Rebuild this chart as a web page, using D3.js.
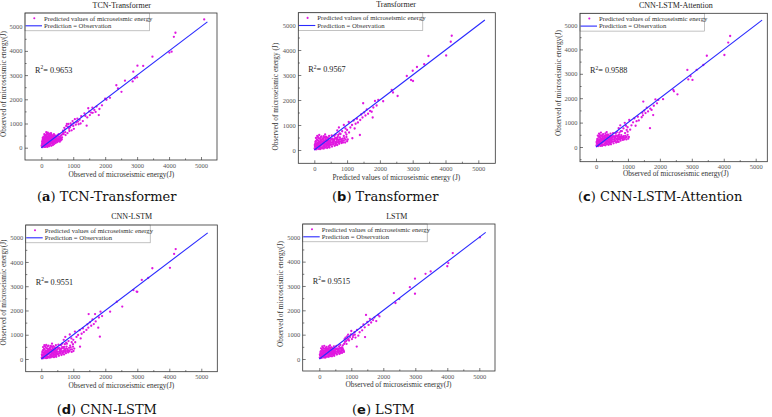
<!DOCTYPE html>
<html>
<head>
<meta charset="utf-8">
<script src="https://cdn.jsdelivr.net/npm/d3@7"></script>
<style>
body{margin:0;background:#fff}
svg{display:block}
</style>
</head>
<body>
<svg id="fig"></svg>
<script>
//data
var ticks = [0,1000,2000,3000,4000,5000];
var minorTicks = [-500,500,1500,2500,3500,4500,5500];
var titles = ['TCN-Transformer','Transformer','CNN-LSTM-Attention','CNN-LSTM','LSTM'];
var letters = ['a','b','c','d','e'];
var r2 = ['0.9653','0.9567','0.9588','0.9551','0.9515'];
var xLabels = ['Observed of microseismic energy(J)','Predicted values of microseismic energy (J)','Observed of microseismic energy(J)','Observed of microseismic energy(J)','Observed of microseismic energy(J)'];
var yLabels = ['Observed of microseismic energy(J)','Observed of microseismic energy (J)','Observed of microseismic energy(J)','Observed of microseismic energy(J)','Observed of microseismic energy(J)'];
var legendText = ['Predicted values of microseismic energy','Prediction = Observation'];
var idLine = [0,5200];

var ptsTcnTransformer = [
[20,50],[35,120],[50,210],[60,80],[75,300],[80,160],[90,40],[100,380],[110,250],[120,120],[130,450],[140,60],[150,320],[160,200],[170,520],[180,90],[190,400],[200,270],[210,150],[220,560],[230,350],[240,60],[250,210],[260,470],[270,300],[280,130],[290,420],[300,240],[310,80],[320,540],[330,360],[340,180],[350,280],[360,110],[370,450],[380,220],[390,330],[400,150],[410,500],[420,260],[440,380],[450,190],[460,430],[480,300],[500,230],[510,520],[530,350],[550,280],[570,450],[590,380],[610,300],[630,520],[650,430],[40,20],[60,330],[85,250],[115,500],[145,420],[175,280],[205,620],[235,480],[265,580],[25,250],[45,400],[70,460],[95,560],[125,180],[155,640],[185,30],[215,320],[245,400],[275,200],[305,600],[335,450],[365,300],[395,560],[425,420],[455,300],[485,470],[515,380],[545,560],[575,330],[605,490],[40,170],[65,240],[105,90],[135,350],[165,470],[195,190],[225,110],[255,330],[285,520],[315,400],[345,240],[375,140],[405,380],[435,230],[465,350],
[12,90],[28,180],[38,310],[52,140],[68,380],[88,190],[98,310],[108,420],[118,30],[128,270],[138,530],[148,150],[158,380],[168,230],[178,600],[188,340],[198,110],[208,470],[218,240],[228,410],[238,180],[248,520],[258,120],[268,370],[278,450],[288,280],[298,170],[308,350],[318,220],[328,480],[338,300],[348,390],[358,190],[368,510],[378,290],[398,250],[418,330],[438,300],[458,240],[478,400],[498,330],[518,280],[538,460],[558,380],[578,250],[598,420],[622,370],[642,340],[662,560],[82,340],[122,380],[162,320],[202,560],[242,260],[282,330],[322,290],[362,380],[402,440],[442,500],[482,360],
[680,700],[700,560],[720,820],[750,640],[780,900],[800,980],[820,600],[850,980],[870,780],[900,850],[920,1000],[950,720],[980,1100],[1000,900],[1020,780],[1050,1180],[1080,950],[1100,1050],[1130,1200],[1170,970],[1200,1150],[1250,1300],[1300,1100],[1350,1420],[1420,910],[1440,1250],[1470,1630],[1500,1500],[1520,1350],[1560,1450],[1600,1650],[1610,1440],[1660,1560],[1700,1480],[1730,1700],[1800,1350],[1820,1600],[1900,1750],[2000,2030],[2040,1980],[2150,2060],[2350,2580],[2400,2450],[2510,2310],[2620,2770],[2860,2740],[2880,3140],[2930,2870],[3000,2910],[3010,3390],[3190,3380],[3480,3760],[4010,3930],[4080,3970],[4150,4580],[4200,4750],[5100,5300],
[690,620],[740,760],[760,520],[830,870],[880,690],[940,930],[1010,1010],[1150,1080],[1230,1000],[1380,1310]
];
var ptsTransformer = [
[10,60],[20,150],[30,260],[40,90],[50,350],[60,200],[70,30],[80,420],[90,130],[100,280],[110,520],[120,60],[130,360],[140,190],[150,600],[160,100],[170,450],[180,280],[190,40],[200,380],[210,180],[220,540],[230,90],[240,320],[250,230],[260,460],[270,140],[280,380],[290,60],[300,270],[310,500],[320,170],[330,340],[340,100],[350,430],[360,230],[370,150],[380,360],[390,80],[400,290],[410,480],[420,200],[430,120],[440,390],[450,260],[460,170],[480,320],[500,210],[520,430],[540,140],[560,300],[580,230],[600,380],[620,170],[640,480],[660,270],[680,350],[700,200],[720,420],[740,300],[760,250],[780,500],[800,340],[830,280],[860,450],[900,380],[940,300],[980,520],[1020,420],[50,480],[90,560],[130,250],[170,330],[210,420],[250,70],[290,550],[330,620],[370,520],[410,360],[450,560],[490,460],[530,580],[570,400],[610,560],[650,620],[690,480],[730,600],[770,660],[25,30],[65,120],[105,170],[145,40],[185,230],[225,300],[265,320],[305,120],[345,250],[385,210],[425,290],[465,100],
[15,200],[35,330],[55,110],[75,260],[95,400],[115,220],[135,470],[155,310],[175,150],[195,510],[215,330],[235,230],[255,420],[275,290],[295,190],[315,380],[335,240],[355,520],[375,330],[395,190],[415,290],[435,460],[455,350],[475,240],[495,380],[515,300],[535,220],[555,450],[575,330],[595,260],[615,440],[635,320],[655,200],[675,430],[695,300],[715,520],[735,380],[755,330],[775,420],[815,430],[845,360],[875,300],[915,470],[955,420],[1000,350],[120,300],[200,90],[280,470],[360,420],[440,180],
[700,780],[750,900],[800,640],[850,750],[900,1000],[950,860],[1000,800],[1050,1120],[900,560],[950,700],[980,620],[1060,700],[1100,900],[1150,1000],[1160,470],[1200,1180],[1230,860],[1260,1050],[1300,1250],[1330,1100],[1390,600],[1400,1200],[1430,1420],[1470,1300],[1490,1870],[1520,1500],[1560,1380],[1600,1620],[1640,1450],[1700,1560],[1750,1530],[1780,1300],[1800,1700],[1850,1960],[1900,1780],[1950,2000],[2100,1950],[2360,2400],[2400,2300],[2540,2160],[2820,2960],[2950,2800],[3000,3170],[3010,2760],[3130,3320],[3350,3430],[3480,3760],[4020,3780],[4160,4330],[4190,4570]
];
var ptsCnnLstmAtt = [
[15,70],[25,160],[35,250],[45,100],[55,340],[65,210],[75,40],[85,430],[95,140],[105,290],[115,510],[125,70],[135,370],[145,200],[155,590],[165,110],[175,460],[185,290],[195,50],[205,390],[215,190],[225,530],[235,100],[245,330],[255,240],[265,470],[275,150],[285,390],[295,70],[305,280],[315,490],[325,180],[335,350],[345,110],[355,440],[365,240],[375,160],[385,370],[395,90],[405,300],[415,470],[425,210],[435,130],[445,400],[455,270],[470,180],[490,330],[510,220],[530,420],[550,150],[570,310],[590,240],[610,390],[630,180],[650,470],[670,280],[690,360],[710,210],[730,430],[750,310],[770,260],[790,490],[810,350],[840,290],[870,440],[910,370],[950,310],[990,500],[1030,410],[55,470],[95,550],[135,260],[175,340],[215,430],[255,80],[295,560],[335,610],[375,510],[415,370],[455,550],[495,450],[535,570],[575,410],[615,550],[655,610],[695,470],[735,590],[775,650],[30,35],[70,130],[110,180],[150,45],[190,240],[230,310],[270,330],[310,130],[350,260],[390,220],[430,300],[470,110],
[20,210],[40,320],[60,120],[80,270],[100,410],[120,230],[140,460],[160,320],[180,160],[200,500],[220,340],[240,240],[260,410],[280,300],[300,200],[320,390],[340,250],[360,510],[380,320],[400,200],[420,300],[440,450],[460,360],[480,250],[500,390],[520,310],[540,230],[560,440],[580,340],[600,270],[620,450],[640,330],[660,210],[680,420],[700,310],[720,510],[740,390],[760,340],[780,410],[820,420],[850,370],[880,310],[920,460],[960,410],[1010,340],[125,310],[205,100],[285,460],[365,430],[445,190],
[710,770],[760,890],[810,650],[860,760],[900,990],[940,870],[990,810],[1040,1110],[910,570],[960,700],[990,630],[1070,710],[1110,890],[1160,1010],[1200,1170],[1240,870],[1270,1060],[1310,1240],[1340,1090],[1430,1220],[1450,1400],[1470,1300],[1480,1860],[1510,1490],[1550,1390],[1590,1610],[1630,1460],[1690,770],[1700,1570],[1740,1520],[1790,1310],[1810,1690],[1860,1950],[1910,1790],[1950,1930],[2100,1960],[2420,2340],[2440,2280],[2550,2160],[2860,3160],[2890,2770],[2960,2900],[3020,2750],[3150,3160],[3360,3360],[3470,3740],[4020,3770],[4140,4280],[4200,4550]
];
var ptsCnnLstm = [
[15,55],[25,140],[35,270],[45,95],[55,360],[65,190],[75,35],[85,410],[95,150],[105,270],[115,530],[125,65],[135,350],[145,210],[155,580],[165,95],[175,440],[185,270],[195,45],[205,370],[215,200],[225,550],[235,85],[245,310],[255,250],[265,450],[275,130],[285,400],[295,65],[305,260],[315,510],[325,160],[335,330],[345,95],[355,420],[365,220],[375,140],[385,350],[395,75],[405,280],[415,490],[425,190],[435,110],[445,380],[455,250],[470,160],[490,310],[510,200],[530,440],[550,130],[570,290],[590,220],[610,370],[630,160],[650,490],[670,260],[690,340],[710,190],[730,410],[750,290],[770,240],[790,510],[810,330],[840,270],[870,460],[910,390],[950,290],[990,510],[1030,430],[55,490],[95,570],[135,240],[175,320],[215,410],[255,60],[295,540],[335,630],[375,530],[415,350],[455,570],[495,470],[535,590],[575,390],[615,570],[655,630],[695,490],[735,610],[775,670],[30,25],[70,110],[110,160],[150,35],[190,220],[230,290],[270,310],[310,110],[350,240],[390,200],[430,280],[470,90],
[18,190],[38,310],[58,130],[78,250],[98,420],[118,210],[138,480],[158,300],[178,170],[198,520],[218,320],[238,210],[258,400],[278,310],[298,180],[318,370],[338,230],[358,500],[378,310],[398,180],[418,320],[438,440],[458,340],[478,230],[498,400],[518,290],[538,210],[558,460],[578,320],[598,250],[618,430],[638,310],[658,220],[678,450],[698,290],[718,500],[738,370],[758,320],[778,430],[818,410],[848,350],[878,320],[918,480],[958,400],[1005,330],[122,320],[202,110],[282,480],[362,440],[442,170],
[700,790],[750,910],[800,630],[850,740],[890,1010],[940,850],[1000,790],[1050,1130],[900,550],[950,690],[990,610],[1060,690],[1100,910],[1150,990],[1210,510],[1200,1190],[1230,850],[1260,1040],[1300,1260],[1330,1110],[1410,1200],[1440,1430],[1470,1290],[1480,1850],[1520,1510],[1560,1370],[1600,1630],[1640,1440],[1700,1550],[1680,1850],[1780,1290],[1830,920],[1800,1710],[1850,1950],[1900,1770],[2150,1950],[2360,2360],[2530,2160],[2880,2840],[2980,2780],[3000,2770],[3140,3260],[3340,3340],[3470,3740],[4020,3760],[4150,4330],[4200,4530]
];
var ptsLstm = [
[15,60],[25,150],[35,240],[45,90],[55,320],[65,200],[75,45],[85,390],[95,140],[105,270],[115,470],[125,80],[135,340],[145,200],[155,540],[165,120],[175,420],[185,280],[195,60],[205,360],[215,190],[225,500],[235,110],[245,310],[255,230],[265,440],[275,160],[285,370],[295,90],[305,270],[315,460],[325,190],[335,330],[345,120],[355,410],[365,240],[375,170],[385,350],[395,110],[405,290],[415,450],[425,220],[435,150],[445,380],[455,270],[470,200],[490,320],[510,240],[530,410],[550,180],[570,320],[590,260],[610,380],[630,210],[650,460],[670,300],[690,370],[710,250],[730,430],[750,330],[770,290],[55,440],[95,520],[135,250],[175,330],[215,410],[255,100],[295,520],[335,560],[375,480],[415,360],[455,520],[495,440],[535,540],[575,400],[615,520],[655,580],[695,470],[735,560],[775,620],[30,40],[70,130],[110,180],[150,60],[190,240],[230,300],[270,320],[310,140],[350,250],[390,220],[430,300],[470,130],
[18,180],[38,300],[58,120],[78,240],[98,370],[118,210],[138,430],[158,290],[178,160],[198,460],[218,320],[238,220],[258,380],[278,300],[298,200],[318,360],[338,240],[358,470],[378,300],[398,200],[418,300],[438,420],[458,330],[478,250],[498,380],[518,300],[538,230],[558,440],[578,340],[598,280],[618,440],[638,320],[658,250],[678,420],[698,330],[718,480],[738,380],[758,350],[122,300],[202,100],[282,430],[362,400],[442,200],
[800,700],[820,880],[850,620],[880,800],[900,1000],[930,760],[960,900],[1000,1150],[1020,820],[1060,980],[1100,1100],[1130,880],[1170,510],[1180,1200],[1220,960],[1260,1100],[1300,1300],[1340,1180],[1380,1420],[1430,900],[1420,1300],[1460,1810],[1500,1520],[1540,1400],[1580,1650],[1620,1500],[1680,1600],[1720,1700],[1780,1560],[1840,1810],[1880,1750],[2330,2710],[2380,2300],[2500,2460],[2830,2950],[2990,3300],[2990,2680],[3320,3500],[3480,3600],[4000,3810],[4030,3940],[4170,4350],[5020,5000],
[790,820],[840,740],[870,930],[910,830],[990,1010],[1050,900],[1110,1000]
];

//layout of the five panels (pixel positions)
var layout = [
	{l:25,t:13,r:217,b:160,x0:41.3,x5:201,y0:147.7,y5:26.7,title:[121.7,8],xl:[121.3,176.5],yl:[6.3,84],cap:[37,201]},
	{l:298.3,t:12.7,r:495.3,b:163.3,x0:314.3,x5:478.3,y0:150,y5:25,title:[396,7],xl:[396.3,179.5],yl:[278,96.7],cap:[332,201]},
	{l:580,t:13.3,r:767.3,b:161.7,x0:596,x5:755.7,y0:147,y5:25,title:[675.8,7.5],xl:[675.8,176],yl:[560.5,83],cap:[578,201]},
	{l:25.7,t:225,r:217.3,b:371.7,x0:41.3,x5:201.3,y0:359,y5:237.7,title:[131.7,219],xl:[121.3,387.5],yl:[6,292.5],cap:[56.7,414]},
	{l:302.7,t:224,r:495,b:371,x0:319.3,x5:479.3,y0:359,y5:237.3,title:[396.8,218.5],xl:[398.5,387],yl:[283,294],cap:[352,414]}
];
var allPts = [ptsTcnTransformer,ptsTransformer,ptsCnnLstmAtt,ptsCnnLstm,ptsLstm];

var serif = '"Liberation Serif","Times New Roman",serif';
var dotColor = '#e018e0';
var lineColor = '#2a2aff';

var svg = d3.select('#fig').attr('width',772).attr('height',417);

layout.forEach(function(L,i){
	var g = svg.append('g');
	var x = d3.scaleLinear().domain([0,5000]).range([L.x0,L.x5]);
	var y = d3.scaleLinear().domain([0,5000]).range([L.y0,L.y5]);
	var inX = minorTicks.filter(function(v){return x(v)>L.l+1 && x(v)<L.r-1;});
	var inY = minorTicks.filter(function(v){return y(v)<L.b-1 && y(v)>L.t+1;});

	//axes, ticks point inward
	var ax = g.append('g').attr('transform','translate(0,'+L.b+')')
		.call(d3.axisBottom(x).tickValues(ticks).tickSize(-3).tickPadding(3).tickFormat(d3.format('d')));
	var axm = g.append('g').attr('transform','translate(0,'+L.b+')')
		.call(d3.axisBottom(x).tickValues(inX).tickSize(-1.6).tickFormat(''));
	var ay = g.append('g').attr('transform','translate('+L.l+',0)')
		.call(d3.axisLeft(y).tickValues(ticks).tickSize(-3).tickPadding(2.5).tickFormat(d3.format('d')));
	var aym = g.append('g').attr('transform','translate('+L.l+',0)')
		.call(d3.axisLeft(y).tickValues(inY).tickSize(-1.6).tickFormat(''));
	[ax,axm,ay,aym].forEach(function(a){
		a.select('.domain').remove();
		a.selectAll('line').attr('stroke','#444').attr('stroke-width',0.7);
		a.selectAll('text').attr('font-family',serif).attr('font-size','6.5px').attr('fill','#555');
	});

	//points
	g.append('g').selectAll('circle').data(allPts[i]).enter().append('circle')
		.attr('cx',function(d){return x(d[0]);})
		.attr('cy',function(d){return y(d[1]);})
		.attr('r',1.15)
		.attr('fill',dotColor);

	//prediction = observation line
	g.append('line')
		.attr('x1',x(idLine[0])).attr('y1',y(idLine[0]))
		.attr('x2',x(idLine[1])).attr('y2',y(idLine[1]))
		.attr('stroke',lineColor).attr('stroke-width',1.1);

	//legend
	var lg = g.append('g').attr('transform','translate('+L.l+','+L.t+')');
	lg.append('rect').attr('width',124.5).attr('height',17.8)
		.attr('fill','#fff').attr('stroke','#999').attr('stroke-width',0.6);
	lg.append('circle').attr('cx',9.3).attr('cy',5.2).attr('r',1.05).attr('fill',dotColor);
	lg.append('line').attr('x1',0.5).attr('x2',17).attr('y1',12.8).attr('y2',12.8)
		.attr('stroke',lineColor).attr('stroke-width',1.1);
	lg.selectAll('text.leg').data(legendText).enter().append('text')
		.attr('x',19).attr('y',function(d,k){return 7.5+k*7.6;})
		.attr('font-family',serif).attr('font-size','6.7px').attr('fill','#333')
		.text(function(d){return d;});

	//frame
	g.append('rect').attr('x',L.l).attr('y',L.t).attr('width',L.r-L.l).attr('height',L.b-L.t)
		.attr('fill','none').attr('stroke','#333').attr('stroke-width',0.8);

	//R2
	var rt = g.append('text').attr('x',L.l+10).attr('y',L.t+59.5)
		.attr('font-family',serif).attr('font-size','8.2px').attr('fill','#222');
	rt.append('tspan').text('R');
	rt.append('tspan').attr('font-size','5.5px').attr('dy','-3.2').text('2');
	rt.append('tspan').attr('dy','3.2').text('= '+r2[i]);

	//title and axis labels
	g.append('text').attr('x',L.title[0]).attr('y',L.title[1]).attr('text-anchor','middle')
		.attr('font-family',serif).attr('font-size','8px').attr('fill','#222').text(titles[i]);
	g.append('text').attr('x',L.xl[0]).attr('y',L.xl[1]).attr('text-anchor','middle')
		.attr('font-family',serif).attr('font-size','7.3px').attr('fill','#333').text(xLabels[i]);
	g.append('text').attr('transform','translate('+L.yl[0]+','+L.yl[1]+') rotate(-90)')
		.attr('text-anchor','middle')
		.attr('font-family',serif).attr('font-size','7.3px').attr('fill','#333').text(yLabels[i]);

	//caption below
	var cap = g.append('text').attr('x',L.cap[0]).attr('y',L.cap[1])
		.attr('font-family','"DejaVu Serif",serif').attr('font-size','13px').attr('fill','#111');
	cap.append('tspan').text('(');
	cap.append('tspan').attr('font-weight','bold')
		.attr('font-family', i==0 ? '"DejaVu Serif",serif' : '"DejaVu Sans",sans-serif').text(letters[i]);
	cap.append('tspan').text(') '+titles[i]);
});
</script>
</body>
</html>
